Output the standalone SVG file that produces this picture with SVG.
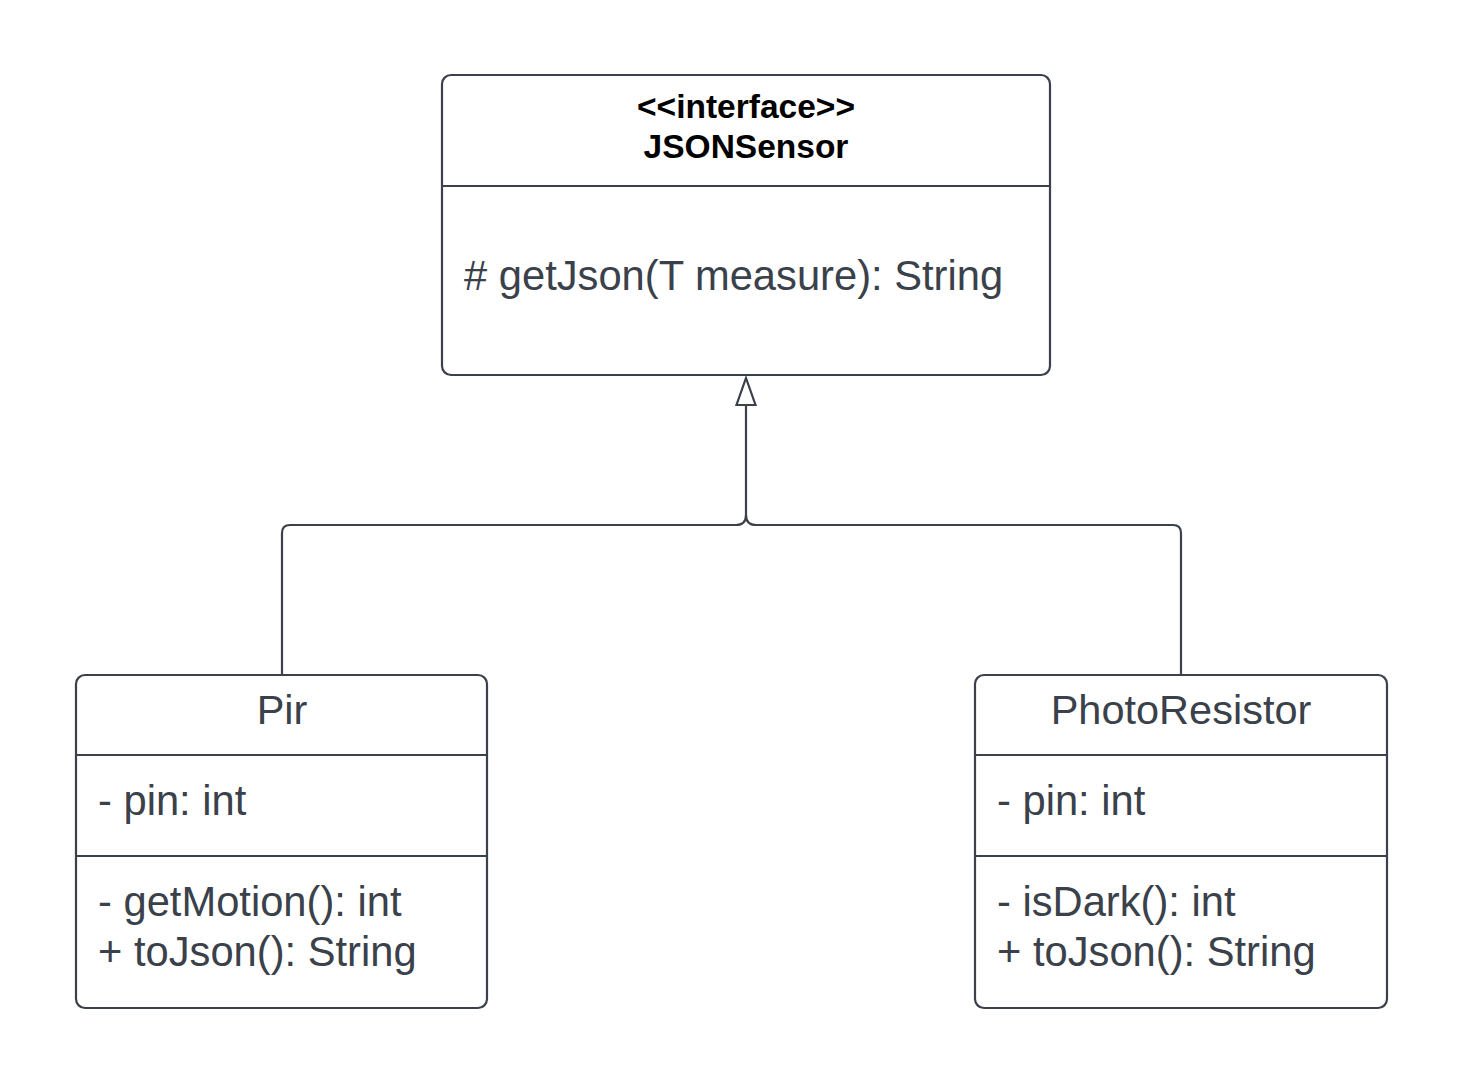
<svg xmlns="http://www.w3.org/2000/svg" width="1463" height="1084" viewBox="0 0 1463 1084">
<style>
.box{fill:#ffffff;stroke:#3a414a;stroke-width:2.2}
.div{stroke:#3a414a;stroke-width:2;fill:none}
.conn{stroke:#3a414a;stroke-width:2.2;fill:none}
.hdr{font-family:"Liberation Sans",Arial,sans-serif;font-weight:bold;font-size:33.5px;fill:#000000;text-anchor:middle}
.ttl{font-family:"Liberation Sans",Arial,sans-serif;font-size:41.5px;fill:#3a414a;text-anchor:middle}
.txt{font-family:"Liberation Sans",Arial,sans-serif;font-size:41.7px;fill:#3a414a}
</style>
<rect width="1463" height="1084" fill="#ffffff"/>
<g id="connectors">
<path class="conn" d="M746,405 L746,515 Q746,525 736,525 L290,525 Q282,525 282,533 L282,675"/>
<path class="conn" d="M746,515 Q746,525 756,525 L1173,525 Q1181,525 1181,533 L1181,675"/>
<polygon points="746,378 755.5,405 736.5,405" fill="#ffffff" stroke="#3a414a" stroke-width="2.2" stroke-linejoin="miter"/>
</g>
<g id="JSONSensor">
<rect class="box" x="442" y="75" width="608" height="300" rx="9"/>
<line class="div" x1="442" y1="186" x2="1050" y2="186"/>
<text class="hdr" x="746" y="118">&lt;&lt;interface&gt;&gt;</text>
<text class="hdr" x="746" y="158">JSONSensor</text>
<text class="txt" x="464" y="290"># getJson(T measure): String</text>
</g>
<g id="Pir">
<rect class="box" x="76" y="675" width="411" height="333" rx="9"/>
<line class="div" x1="76" y1="755" x2="487" y2="755"/>
<line class="div" x1="76" y1="856" x2="487" y2="856"/>
<text class="ttl" x="282" y="724">Pir</text>
<text class="txt" x="98" y="815">- pin: int</text>
<text class="txt" x="98" y="916">- getMotion(): int</text>
<text class="txt" x="98" y="966">+ toJson(): String</text>
</g>
<g id="PhotoResistor">
<rect class="box" x="975" y="675" width="412" height="333" rx="9"/>
<line class="div" x1="975" y1="755" x2="1387" y2="755"/>
<line class="div" x1="975" y1="856" x2="1387" y2="856"/>
<text class="ttl" x="1181" y="724">PhotoResistor</text>
<text class="txt" x="997" y="815">- pin: int</text>
<text class="txt" x="997" y="916">- isDark(): int</text>
<text class="txt" x="997" y="966">+ toJson(): String</text>
</g>
</svg>
